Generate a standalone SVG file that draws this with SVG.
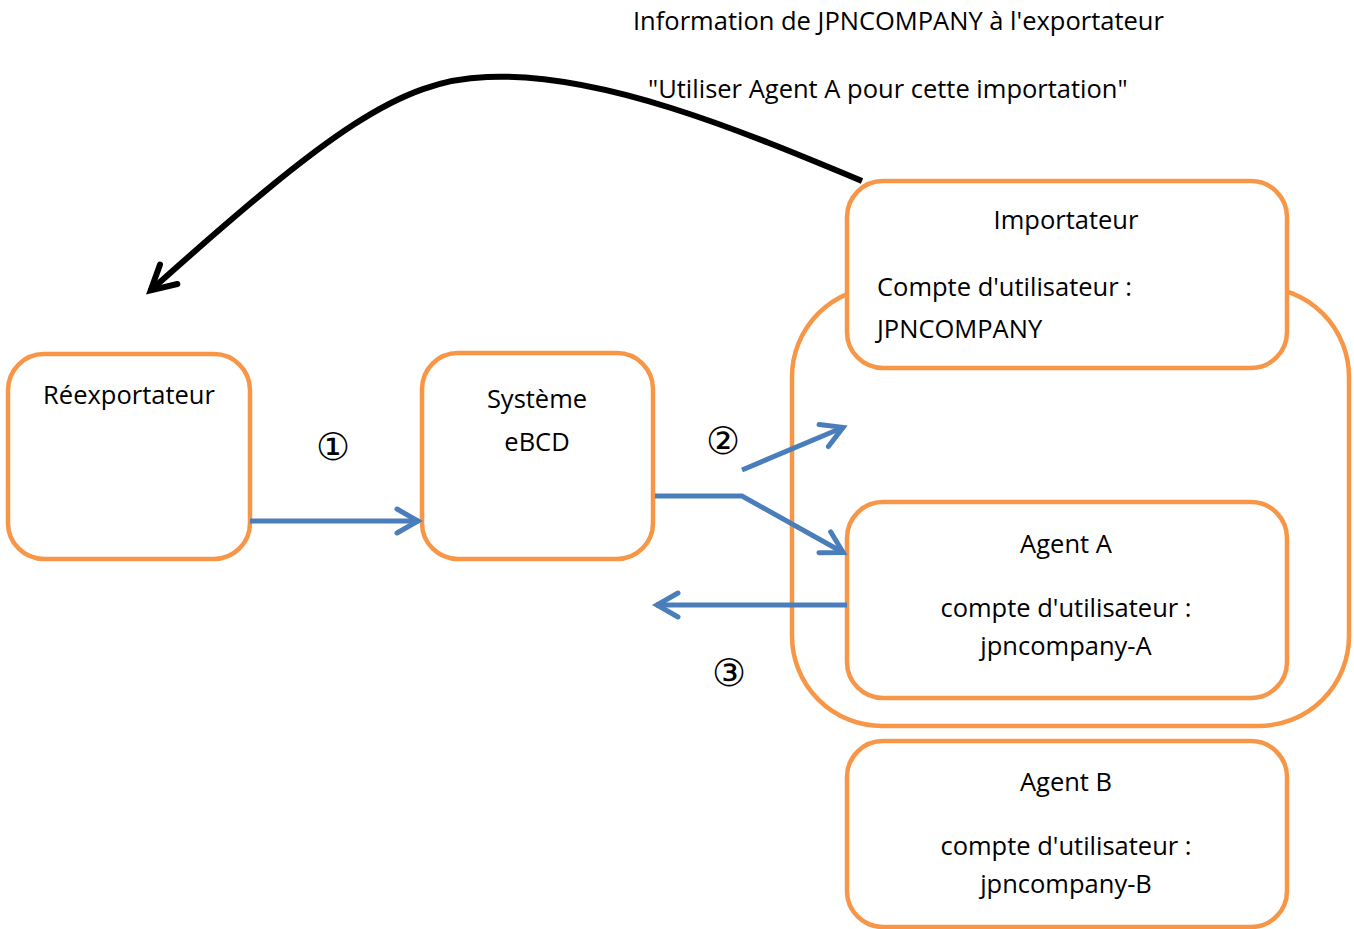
<svg xmlns="http://www.w3.org/2000/svg" width="1354" height="929" viewBox="0 0 1354 929">
<defs>
<style>
.box{fill:#fff;stroke:#F79646;stroke-width:4.5}
.grp{fill:none;stroke:#F79646;stroke-width:4.5}
.t{font-family:"Open Sans","Liberation Sans",sans-serif;font-size:25.5px;fill:#000}
.c{text-anchor:middle}
.num{font-family:"DejaVu Sans",sans-serif;font-weight:200;font-size:38px;fill:#000;text-anchor:middle}
.blue{fill:none;stroke:#4A7EBB;stroke-width:5}
.black{fill:none;stroke:#000;stroke-width:6}
</style>
<marker id="ab" markerUnits="userSpaceOnUse" markerWidth="60" markerHeight="60" refX="0" refY="0" orient="auto" overflow="visible">
<path d="M-22,-12 L-1,0 L-22,12" fill="none" stroke="#4A7EBB" stroke-width="5" stroke-linecap="round" stroke-linejoin="miter"/>
</marker>
<marker id="ak" markerUnits="userSpaceOnUse" markerWidth="60" markerHeight="60" refX="0" refY="0" orient="auto" overflow="visible">
<path d="M-25,-13 L-1,0 L-25,13" fill="none" stroke="#000" stroke-width="6" stroke-linecap="round" stroke-linejoin="miter"/>
</marker>
</defs>
<rect width="1354" height="929" fill="#fff"/>

<g id="group-importer">
<rect class="grp" x="792" y="287" width="557" height="439" rx="90" ry="90"/>
</g>

<g id="reexportateur">
<rect class="box" x="8" y="354" width="242" height="205" rx="36"/>
<text class="t c" x="129" y="404">Réexportateur</text>
</g>

<g id="ebcd">
<rect class="box" x="422" y="353" width="231" height="206" rx="36"/>
<text class="t c" x="537" y="408">Système</text>
<text class="t c" x="537" y="451">eBCD</text>
</g>

<g id="importateur">
<rect class="box" x="847" y="181" width="440" height="187" rx="36"/>
<text class="t c" x="1066" y="229">Importateur</text>
<text class="t" x="877" y="296">Compte d'utilisateur :</text>
<text class="t" x="877" y="338">JPNCOMPANY</text>
</g>

<g id="agent-a">
<rect class="box" x="847" y="502" width="440" height="196" rx="36"/>
<text class="t c" x="1066" y="553">Agent A</text>
<text class="t c" x="1066" y="617">compte d'utilisateur :</text>
<text class="t c" x="1066" y="655">jpncompany-A</text>
</g>

<g id="agent-b">
<rect class="box" x="847" y="741" width="440" height="186" rx="36"/>
<text class="t c" x="1066" y="791">Agent B</text>
<text class="t c" x="1066" y="855">compte d'utilisateur :</text>
<text class="t c" x="1066" y="893">jpncompany-B</text>
</g>

<g id="labels">
<text class="t" x="633" y="30">Information de JPNCOMPANY à l'exportateur</text>
<text class="t" x="648" y="98">"Utiliser Agent A pour cette importation"</text>
<text class="num" x="333" y="460">①</text>
<text class="num" x="723" y="454">②</text>
<text class="num" x="729" y="686">③</text>
</g>

<g id="connectors">
<path class="black" d="M862,181 C740,130 600,72 487,77 C400,80 330,130 150,291" marker-end="url(#ak)"/>
<path class="blue" d="M250,521 L419,521" marker-end="url(#ab)"/>
<path class="blue" d="M655,496 L742,496 L844,553" marker-end="url(#ab)"/>
<path class="blue" d="M742,470 L844,427" marker-end="url(#ab)"/>
<path class="blue" d="M847,605 L656,605" marker-end="url(#ab)"/>
</g>
</svg>
